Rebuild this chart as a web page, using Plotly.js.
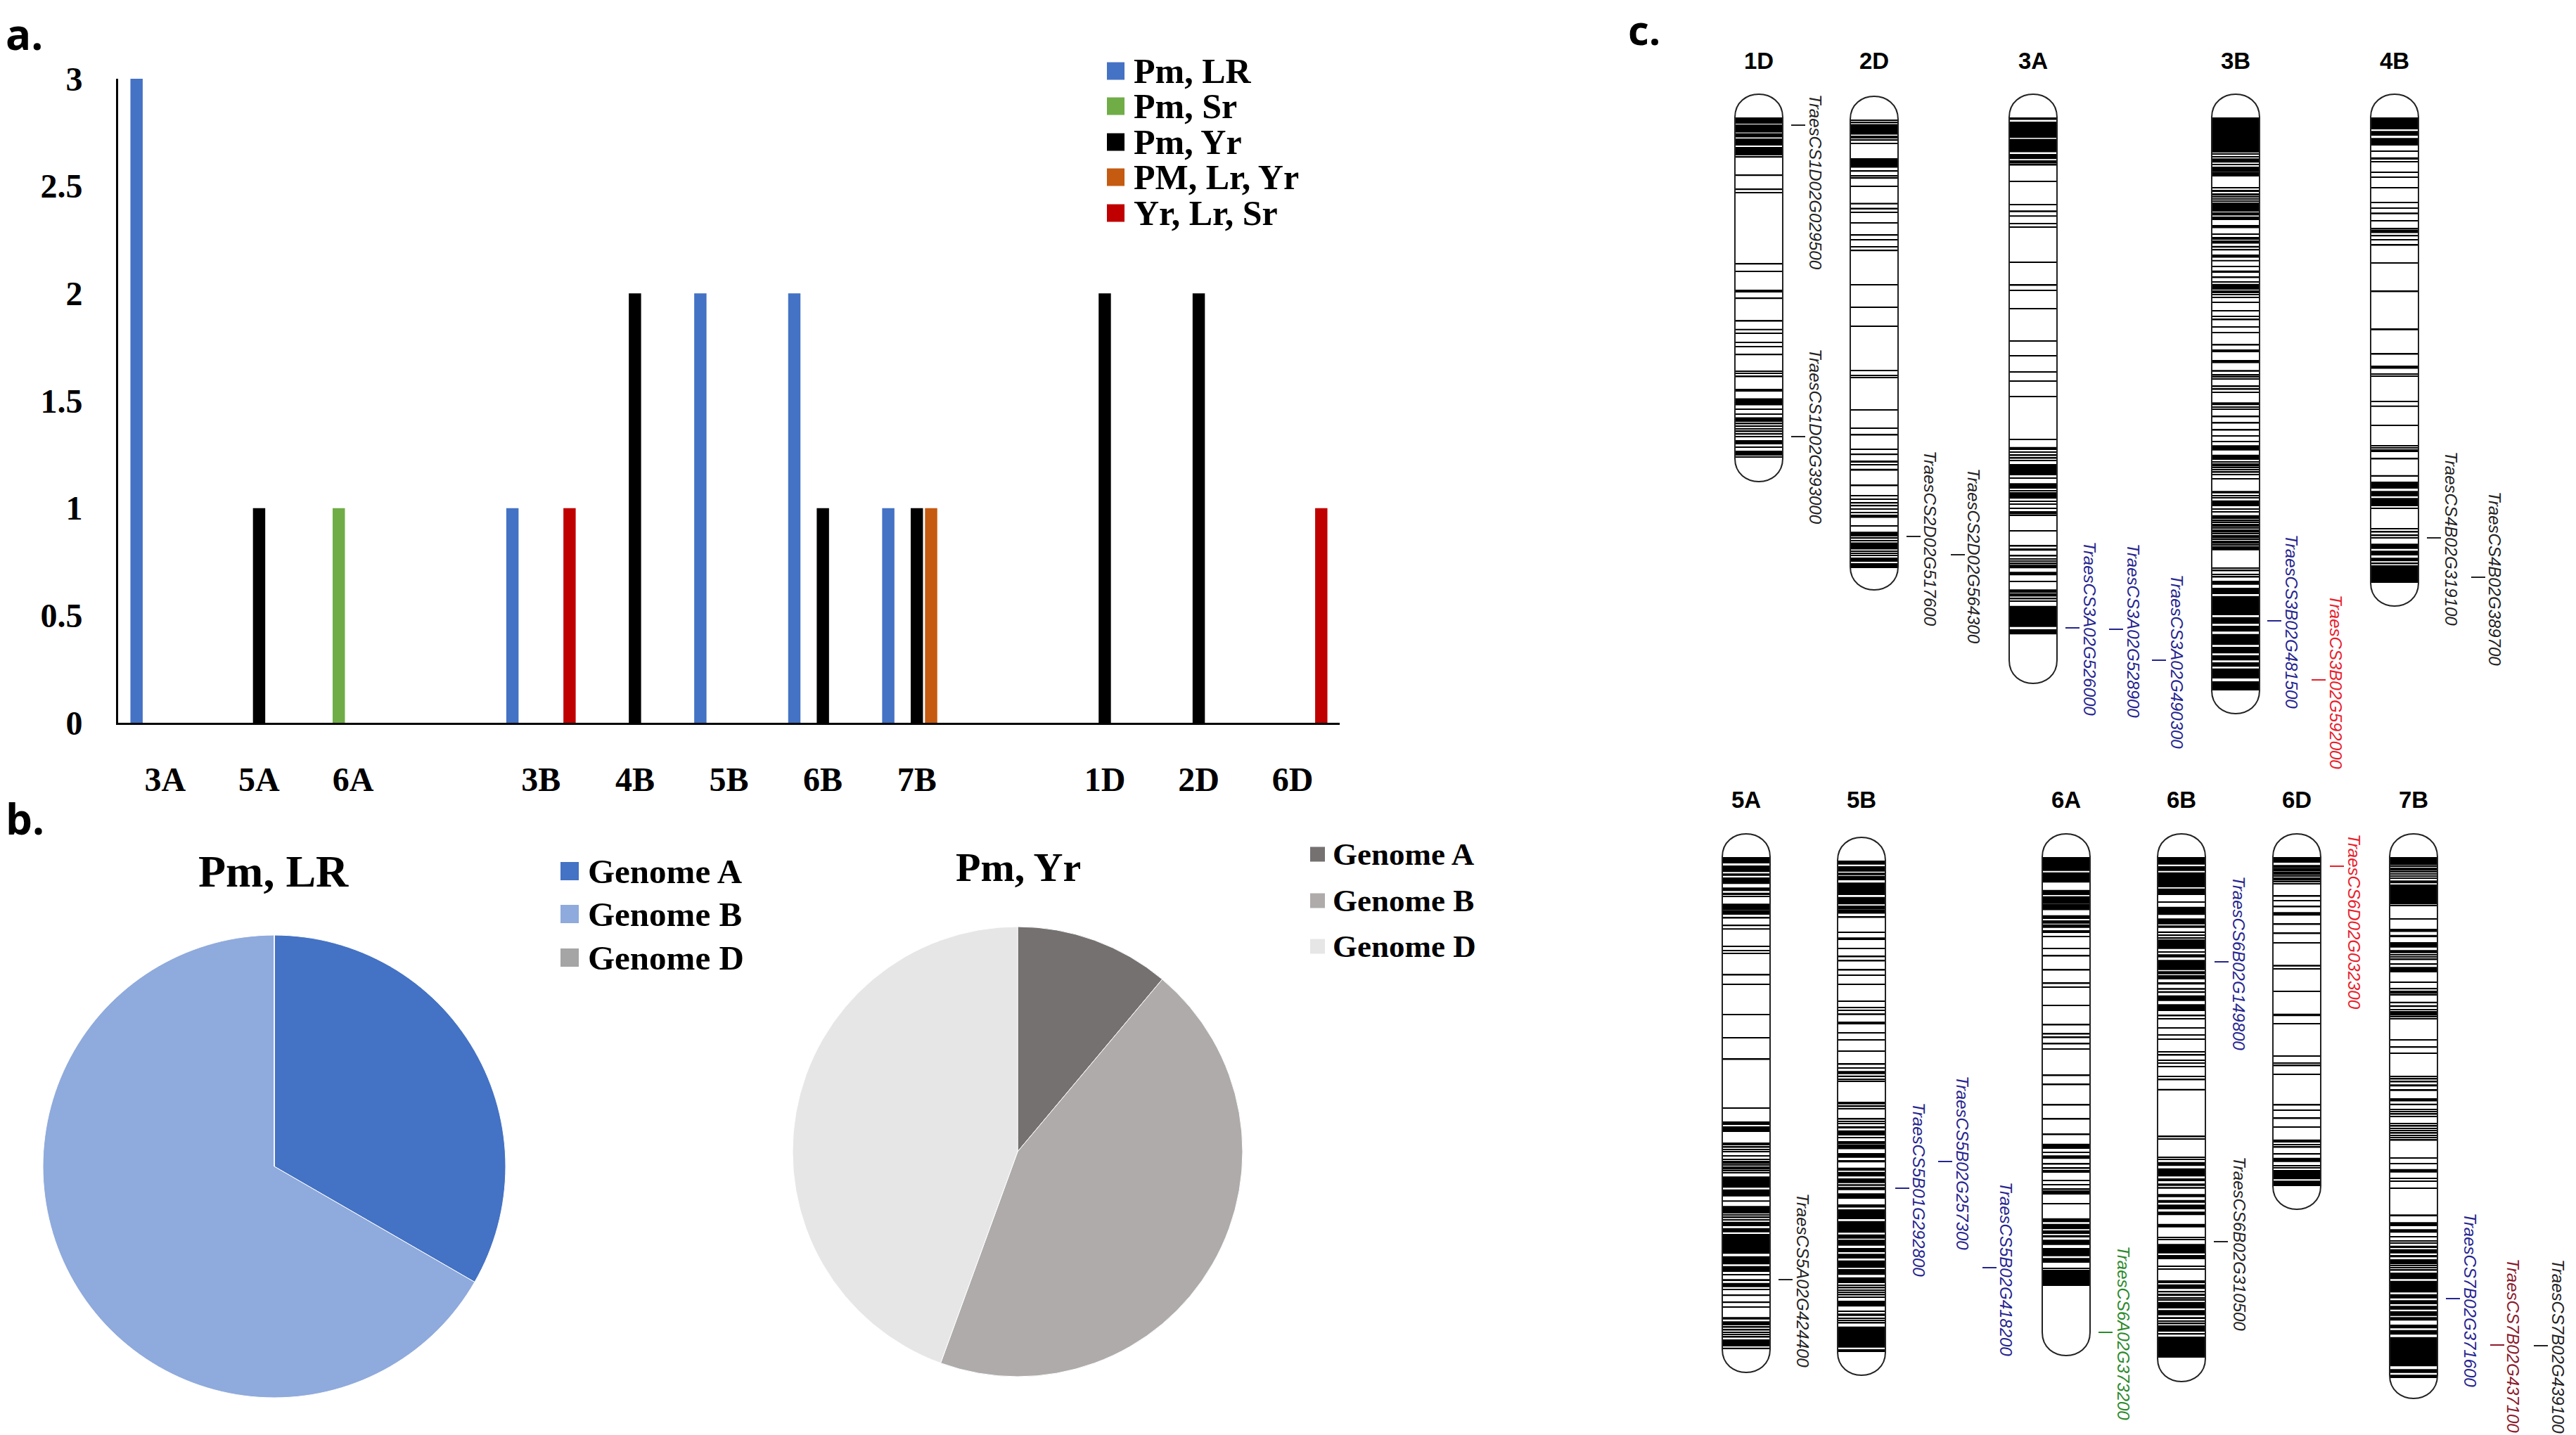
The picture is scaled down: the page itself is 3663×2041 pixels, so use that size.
<!DOCTYPE html>
<html>
<head>
<meta charset="utf-8">
<script src="https://cdn.plot.ly/plotly-3.0.1.min.js"></script>
<style>
  html, body { margin: 0; padding: 0; background: #fff; }
  #chart { width: 3663px; height: 2041px; }
</style>
</head>
<body>
<div id="chart"></div>
<script>
// panel a: bars per chromosome
const barCategories = ["3A", "5A", "6A", "gapA", "3B", "4B", "5B", "6B", "7B", "gapB", "1D", "2D", "6D"];
const barTicks = ["3A", "5A", "6A", "3B", "4B", "5B", "6B", "7B", "1D", "2D", "6D"];
const pmLr = [3, null, null, null, 1, null, 2, 2, 1, null, null, null, null];
const pmSr = [null, null, 1, null, null, null, null, null, null, null, null, null, null];
const pmYr = [null, 1, null, null, null, 2, null, 1, 1, null, 2, 2, null];
const pmLrYr = [null, null, null, null, null, null, null, null, 1, null, null, null, null];
const yrLrSr = [null, null, null, null, 1, null, null, null, null, null, null, null, 1];
const barNames = ["Pm, LR", "Pm, Sr", "Pm, Yr", "PM, Lr, Yr", "Yr, Lr, Sr"];
const barColors = ["#4472C4", "#70AD47", "#000000", "#C55A11", "#C00000"];
const yTicks = [0, 0.5, 1, 1.5, 2, 2.5, 3];

// panel b: pies
const genomes = ["Genome A", "Genome B", "Genome D"];
const pieLr = [3, 6, 0];
const pieYr = [1, 4, 4];
const pieLrColors = ["#4472C4", "#8FAADC", "#A5A5A5"];
const pieYrColors = ["#767171", "#AFABAB", "#E7E6E6"];

// panel c: marker bands, measured down from the first band of each chromosome
// a number is a thin line, a pair is a solid block
const bands1D = [[0,9],[10,21.5],[22.5,28.5],31,33,35,37,39,[42,54],56.5,82.6,102.4,107,208.5,219,[245,249],257.6,[288,290.5],[300.8,302.8],307,320,326,337.5,361.3,364,368.7,[386,390],[399.5,409.5],415,422,[426.5,433],435.7,439.4,443,446.7,450.4,454,[459,465],469,[474,481],[482.5,484]];
const bands2D = [1,4.6,[6.4,21.5],24,26,29.4,34,[55,68.4],73.5,80.4,83.6,95,[118.4,120.7],[125.4,128],132,147,164.4,171,181,186.4,235,267,294,357,364,367,413,439,[447,449.5],469,476.6,[485,488],491,[496.8,499.6],520.7,535,540,545.4,549.6,554,558.8,563.4,565.7,578,[586.3,593],595.5,599,[601.4,611.5],614,617,620,[623,629],[631,638]];
const bands3A = [[0,3.5],[6,25.5],26.7,[27.5,29],[30.5,39],40,42,44.3,46.7,48.7,[52,59.3],[61,63],64.7,67.7,91,124,[132.3,134.7],[139.3,141.3],151.3,156,206,238.7,246,272,318,339.3,362.3,375.3,397,458.3,[468.7,473],476.3,480.7,484.7,488,[493,509],513,[520.3,528],531,[533,542.3],546.3,550.3,556.3,561,563.7,566.3,588,609.7,[613,616.3],623.7,628,631.3,634.7,[636.3,641.3],[646.3,651.3],660.3,[671.3,676.3],678,680.7,684.7,688.3,[694.7,724.7],[728,735.3]];
const bands3B = [[0,50],52,56,[58.3,64.3],67,[70,77.7],79.3,81.3,83.3,100,104.3,105.3,[108,111.3],113.3,116,119.3,[121,132],133.3,136,138.7,[141,146],154.3,156.7,166,171,173.3,176,178.7,[182.7,185.3],[187.7,189.3],196.7,198.7,[202.7,204.7],212,[217.7,221],227.7,234.3,[236.7,245],247,249.3,[251,252.7],256,263.3,275,283.3,287.7,298,306.3,323.7,331,333.3,346,348.7,[359.3,361.7],366.7,369.3,372,382.7,386.7,391,[405.3,409.3],412,415.3,425.7,434.7,444.7,453,461.3,[466.3,473.7],[479.7,487],490.3,493,495.7,498.3,501.3,504.7,508,514,[531.3,534.7],538,541.3,[544.7,553],557,561.3,[565.7,571.3],573.7,576.3,579,581.7,584.3,587,589.7,592.3,595,597.7,600.3,603,605.7,608.3,[609.7,615.7],641.3,644.7,650.3,653.7,[659,664.7],[669,678],[680.7,708],[710.7,720.3],[723,731.3],[734.7,750.3],[753,762.3],[765,772.3],[775,781.3],[783.7,798],[802,815]];
const bands4B = [[0,17],[19.3,26],[29.3,40],48.3,[56.7,60],[62,64],78,85.3,100,121.3,129.3,[135.3,137.7],147,158.7,161,163.7,[167,169.3],174.3,181.7,207.3,247.7,[300,302.7],336.7,354.3,356.7,365.3,368,404.3,[409.7,411.7],438.3,467.3,470.3,473,475.3,485.7,[508.7,511],[518,528],[531.3,539],[541.3,553],556.3,585,589.7,594.7,598,[606.3,613.7],[616.3,623],[626.3,631.3],634.7,[637,662]];
const bands5A = [[0,9],[12,21.3],[23.3,26.7],[29,38.3],[43.3,48.3],[50.7,54],56,[66.3,75.7],77.3,79.3,81.3,86.7,[96.7,98.3],[101.3,103.3],127.3,133.3,137.3,167.7,181,224.3,257.3,287.7,357,[376,381],[383,391],[406,407.7],409.3,412.7,416,419.3,[424.3,426],430.3,433,435.7,438.3,441,443.7,446.3,449,[454.3,470.3],[472.7,482.7],[488.3,490.3],[496.3,507],509.3,512.7,516,[518.7,525],[527.7,533.7],[536,564.3],[567.7,579.3],[581.7,590],[593.3,595],[600.3,603],[605.7,611.7],615.3,[622.7,624.3],[632.7,634.3],640.3,[654.3,657.7],[660.3,666],668.7,672.7,676,679.3,682.7,[686,696],[697.7,700]];
const bands5B = [[0,5.7],[8,15.7],[17.3,20.7],[21.7,28],[31.3,49],[51.7,62.3],[64,69.7],71.3,73,74.7,80.7,102.3,[109.3,113],125.3,136.7,142.7,155.7,163,176,200.3,209.3,213.3,[217.3,219.7],230.7,232.3,245,255.3,271,289.7,295.3,[299.3,303.7],[305.7,308],[310,312.3],314.3,[343,346.7],349.7,353,367.7,371,374.3,[377.7,381],[383.7,391],394.3,400.3,402.7,405,407.3,409.7,[416,422.7],[426,429.3],[436.7,441],[442.7,449.3],[452,458.7],[460.3,462.7],[464.3,468.7],[473.3,481],490,492.7,[496,510],[512.7,529.3],[531.7,537.7],[539.3,547.7],[551,557],[559.3,566],[568.7,579.3],[581,589.3],[592.7,601],604.3,607.7,611,614.3,617.7,621,[626,634.3],641,[644.3,647.7],651,654.3,657.7,[662.7,692.7],[695,699]];
const bands6A = [[0,19.7],[21.7,36.3],[46.7,54],[55.7,66.7],68.3,70.7,72.7,74.7,[82.7,88],[90,94.7],[95.7,100.7],[104,108],113.3,[129,131],140.7,160.7,179.7,185.3,211,238.7,251.7,256.7,265.7,273,310.7,323.7,352.7,372.7,394.7,[407.7,415],[419.3,421],[424.3,429.3],436.7,442.7,446,448.3,460.3,466,472.7,[474.3,480],493.3,[513.7,519.3],[521.7,529.3],[531,536],[537.7,541],[544.3,551.7],[556,567.7],[570.3,577],[584.3,586],[587,610]];
const bands6B = [[0,10.7],[13,19.7],[21.7,43],[44.7,54],64,[70.7,82.3],[87.3,95.7],[97.3,100.7],[105.7,108],[110,112.3],[114,116.3],[117.3,130.7],[134,135.7],[138.3,142.7],[146.3,160.7],[162.3,166.7],169,171.3,173.3,[178,181.3],[186.3,188.7],[190.7,193.3],[196.7,204.7],[209.3,219],225.7,230,243,253.3,259,277.3,281.7,289,293.3,298.3,312.3,316.7,[329.7,332],397.7,401,427,430.3,[433.7,439.3],[442.7,454.3],[457,461],[464.3,467.7],[469.3,471.7],[479.3,483.7],[487.7,491.7],[494.3,501],[504.3,509.3],[521.7,526.7],541,544.3,[550.3,563.7],[566,572],582,586,[602,606],[607.7,614.3],[617,619.3],[621,624.3],627.7,630.3,[632.7,642],[644.3,651.7],[654.3,657],660.3,663.7,[666,675],[677.7,679.3],[682,712]];
const bands6D = [[0,8],[11.3,15.7],17.3,19.7,22.3,24.7,27.3,30,32.7,35.3,38,55.7,62.3,70.7,[78.3,83.3],95.7,108.7,122,[153.3,155.7],159.3,191,[222.7,226.3],237.3,283.3,[292.3,294],296.7,309.3,352.7,360,371.7,384.3,[401.7,406],409.3,412.7,[421,423.3],[427.7,433.7],439.3,442,[445,458.3],[460.3,468]];
const bands7B = [[0,9],10.7,13.3,16,18.7,21.3,24,27.3,30,[33.3,37.3],[39,67.3],69,88.3,103.3,105.7,[110.7,114],[121,128.7],[132.3,136.7],139,142.3,145.7,[151,153.3],[156.3,164],178,[186.7,188.3],191,193.7,196.3,[205.7,208],[210.7,213.3],[216.3,218],220,222.3,224.7,227.3,230,260,[269,271.3],279.3,312.3,315.7,319.7,[323.3,326.3],[330,332.7],344,346.7,[350.7,353],359,362.3,365.7,369,379.3,382.7,386,389.3,392.7,396,399.3,402.7,428.3,436,[443.7,448.7],457,461,471,[508.3,511],[519.3,525],[529.3,534.3],540.3,546,549.3,[552.7,556],[557.7,563.7],[566,569.3],[572,579.3],581,584.3,587.7,[591,600.3],[602.7,619.3],[621.7,627.7],[630.3,636],[638.3,643.7],[646,652.7],[654.3,659.3],[665,670.3],[672.7,679.3],[682.7,724.3],[728.3,733.7],[736.3,741]];

const chromNames = ["1D", "2D", "3A", "3B", "4B", "5A", "5B", "6A", "6B", "6D", "7B"];
const chromBands = [bands1D, bands2D, bands3A, bands3B, bands4B, bands5A, bands5B, bands6A, bands6B, bands6D, bands7B];
const chromX = [2501, 2665, 2891, 3179, 3405, 2483, 2647, 2938, 3102, 3266, 3432];
const chromTop = [167, 170, 167, 167, 167, 1219, 1224, 1219, 1219, 1219, 1219];
const chromEnd = [484, 638, 735, 815, 662, 700, 699, 610, 712, 468, 741];
const chromTail = [34, 31, 70, 33, 33, 33, 33, 99, 34, 33, 29];

const geneNames = ["TraesCS1D02G029500", "TraesCS1D02G393000", "TraesCS2D02G517600", "TraesCS2D02G564300", "TraesCS3A02G526000", "TraesCS3A02G528900", "TraesCS3A02G490300", "TraesCS3B02G481500", "TraesCS3B02G592000", "TraesCS4B02G319100", "TraesCS4B02G389700", "TraesCS5A02G424400", "TraesCS5B01G292800", "TraesCS5B02G257300", "TraesCS5B02G418200", "TraesCS6A02G373200", "TraesCS6B02G149800", "TraesCS6B02G310500", "TraesCS6D02G032300", "TraesCS7B02G371600", "TraesCS7B02G437100", "TraesCS7B02G439100"];
const geneColors = ["#222222", "#222222", "#222222", "#222222", "#25258f", "#25258f", "#25258f", "#25258f", "#e8202a", "#222222", "#222222", "#222222", "#25258f", "#25258f", "#25258f", "#2b8a2b", "#25258f", "#222222", "#e8202a", "#25258f", "#8b1a2b", "#222222"];
const geneTickX = [2547, 2547, 2711, 2774, 2937, 2999, 3060, 3224, 3287, 3451, 3514, 2529, 2695, 2756, 2819, 2984, 3149, 3148, 3313, 3478, 3541, 3603];
const geneTickY = [178, 621, 763, 789, 893, 895, 939, 883, 967, 765, 821, 1820, 1690, 1652, 1803, 1895, 1368, 1766, 1232, 1847, 1913, 1914];
const geneTextX = [2582, 2582, 2745, 2807, 2972, 3034, 3096, 3259, 3322, 3486, 3548, 2564, 2729, 2791, 2853, 3020, 3184, 3185, 3348, 3513, 3574, 3638];
const geneTextY = [259, 621, 766, 791, 894, 897, 941, 884, 970, 766, 823, 1821, 1692, 1654, 1805, 1896, 1370, 1769, 1311, 1849, 1914, 1915];

var serif = "Liberation Serif";
var sans = "Liberation Sans";

function pageText(text, x, y, size, family, anchor, extra) {
  return Object.assign({
    text: text,
    x: x,
    y: y,
    xref: "x2",
    yref: "y2",
    xanchor: anchor,
    yanchor: "middle",
    showarrow: false,
    font: { family: family, size: size, color: "#000", weight: "bold" },
  }, extra || {});
}

function swatch(x, y, size, color) {
  return {
    type: "rect",
    xref: "x2",
    yref: "y2",
    x0: x,
    x1: x + size,
    y0: y - size / 2,
    y1: y + size / 2,
    fillcolor: color,
    line: { width: 0 },
  };
}

// chromosome outline with round ends
function chromOutline(i) {
  let half = 34;
  let cap = 33;
  let x0 = chromX[i] - half;
  let x1 = chromX[i] + half;
  let top = chromTop[i];
  let bottom = chromTop[i] + chromEnd[i] + chromTail[i] - cap;
  let path =
    "M" + x0 + "," + top +
    " C" + x0 + "," + (top - cap * 1.33) + " " + x1 + "," + (top - cap * 1.33) + " " + x1 + "," + top +
    " L" + x1 + "," + bottom +
    " C" + x1 + "," + (bottom + cap * 1.33) + " " + x0 + "," + (bottom + cap * 1.33) + " " + x0 + "," + bottom +
    " Z";
  return {
    type: "path",
    xref: "x2",
    yref: "y2",
    path: path,
    line: { color: "#222", width: 2 },
    fillcolor: "rgba(0,0,0,0)",
  };
}

var traces = [];

// bars
[pmLr, pmSr, pmYr, pmLrYr, yrLrSr].forEach(function (values, i) {
  traces.push({
    type: "bar",
    x: barCategories,
    y: values,
    name: barNames[i],
    marker: { color: barColors[i] },
    showlegend: false,
    xaxis: "x",
    yaxis: "y",
  });
});

// pies
traces.push({
  type: "pie",
  labels: genomes,
  values: pieLr,
  sort: false,
  direction: "clockwise",
  rotation: 0,
  textinfo: "none",
  marker: { colors: pieLrColors, line: { color: "#fff", width: 1 } },
  domain: { x: [61 / 3663, 719 / 3663], y: [(2041 - 1988) / 2041, (2041 - 1330) / 2041] },
  showlegend: false,
});
traces.push({
  type: "pie",
  labels: genomes,
  values: pieYr,
  sort: false,
  direction: "clockwise",
  rotation: 0,
  textinfo: "none",
  marker: { colors: pieYrColors, line: { color: "#fff", width: 1 } },
  domain: { x: [1127 / 3663, 1767 / 3663], y: [(2041 - 1958) / 2041, (2041 - 1318) / 2041] },
  showlegend: false,
});

// chromosome bands
let bandX = [];
let bandBase = [];
let bandLen = [];
chromBands.forEach(function (bands, i) {
  bands.forEach(function (b) {
    let start = Array.isArray(b) ? b[0] : b - 0.75;
    let end = Array.isArray(b) ? b[1] : b + 0.75;
    bandX.push(chromX[i]);
    bandBase.push(chromTop[i] + start);
    bandLen.push(end - start);
  });
});
traces.push({
  type: "bar",
  x: bandX,
  y: bandLen,
  base: bandBase,
  width: 67,
  marker: { color: "#000", line: { width: 0 } },
  showlegend: false,
  xaxis: "x2",
  yaxis: "y2",
});

// gene ticks
geneNames.forEach(function (name, i) {
  traces.push({
    type: "scatter",
    mode: "lines",
    x: [geneTickX[i], geneTickX[i] + 20],
    y: [geneTickY[i], geneTickY[i]],
    line: { color: geneColors[i], width: 2 },
    showlegend: false,
    xaxis: "x2",
    yaxis: "y2",
  });
});

var annotations = [
  pageText("a.", 6, 48, 60, "Open Sans", "left"),
  pageText("b.", 6, 1164, 60, "Open Sans", "left"),
  pageText("c.", 2313, 41, 58, "Open Sans", "left"),
  pageText("Pm, LR", 389, 1239, 64, serif, "center"),
  pageText("Pm, Yr", 1448, 1233, 58, serif, "center"),
];
var shapes = [];

// hand placed legends, the line spacing is tighter than plotly's own
barNames.forEach(function (name, i) {
  let rowY = [101, 151, 202, 252, 303][i];
  shapes.push(swatch(1574, rowY, 25, barColors[i]));
  annotations.push(pageText(name, 1610, rowY, 50, serif, "left"));
});
genomes.forEach(function (name, i) {
  let rowA = [1239, 1300, 1362][i];
  let rowB = [1215, 1281, 1346][i];
  shapes.push(swatch(797, rowA, 26, pieLrColors[i]));
  annotations.push(pageText(name, 834, rowA, 49, serif, "left"));
  shapes.push(swatch(1863, rowB, 21, pieYrColors[i]));
  annotations.push(pageText(name, 1893, rowB, 45, serif, "left"));
});

chromNames.forEach(function (name, i) {
  shapes.push(chromOutline(i));
  annotations.push(pageText(name, chromX[i], i < 5 ? 86 : 1137, 33, sans, "center"));
});

geneNames.forEach(function (name, i) {
  annotations.push({
    text: name,
    x: geneTextX[i],
    y: geneTextY[i],
    xref: "x2",
    yref: "y2",
    textangle: 90,
    showarrow: false,
    font: { family: sans, size: 24, color: geneColors[i], style: "italic" },
  });
});

var layout = {
  width: 3663,
  height: 2041,
  margin: { l: 0, r: 0, t: 0, b: 0, pad: 0 },
  paper_bgcolor: "#fff",
  plot_bgcolor: "rgba(0,0,0,0)",
  showlegend: false,
  barmode: "group",
  bargap: 0.24,
  bargroupgap: 0.14,
  xaxis: {
    domain: [168 / 3663, 1905 / 3663],
    type: "category",
    categoryorder: "array",
    categoryarray: barCategories,
    tickmode: "array",
    tickvals: barTicks,
    ticktext: barTicks,
    tickangle: 0,
    ticks: "",
    ticklabelstandoff: 36,
    tickfont: { family: serif, size: 48, color: "#000", weight: "bold" },
    showgrid: false,
    zeroline: false,
    showline: true,
    linecolor: "#000",
    linewidth: 3,
    anchor: "y",
  },
  yaxis: {
    domain: [(2041 - 1028) / 2041, (2041 - 112) / 2041],
    range: [0, 3],
    tickmode: "array",
    tickvals: yTicks,
    ticks: "",
    ticklabelstandoff: 38,
    tickfont: { family: serif, size: 48, color: "#000", weight: "bold" },
    showgrid: false,
    zeroline: false,
    showline: true,
    linecolor: "#000",
    linewidth: 3,
    anchor: "x",
  },
  xaxis2: { domain: [0, 1], range: [0, 3663], visible: false, anchor: "y2", fixedrange: true },
  yaxis2: { domain: [0, 1], range: [2041, 0], visible: false, anchor: "x2", fixedrange: true },
  shapes: shapes,
  annotations: annotations,
};

Plotly.newPlot("chart", traces, layout, { displayModeBar: false, responsive: false });
</script>
</body>
</html>
